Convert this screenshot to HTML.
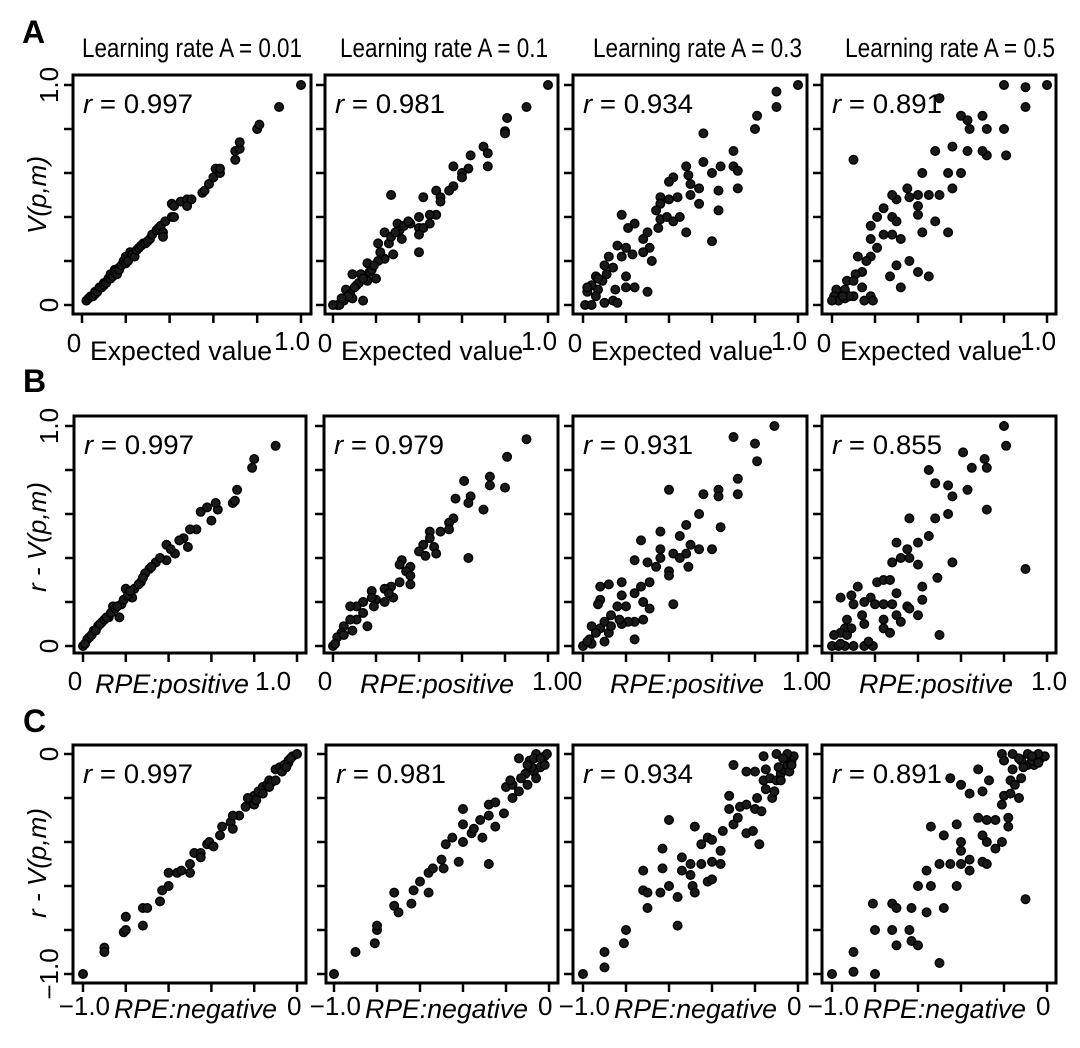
<!DOCTYPE html>
<html><head><meta charset="utf-8"><title>Learning rate scatter panels</title>
<style>
html,body{margin:0;padding:0;background:#fff;}
svg{display:block;font-family:"Liberation Sans",Arial,sans-serif;}
</style></head>
<body>
<svg id="fig" xmlns="http://www.w3.org/2000/svg" width="1080" height="1048" viewBox="0 0 1080 1048">
<rect x="0" y="0" width="1080" height="1048" fill="#fff"/>
<text x="22" y="43" font-size="32" font-weight="bold">A</text>
<text x="23" y="392" font-size="32" font-weight="bold">B</text>
<text x="23" y="732" font-size="32" font-weight="bold">C</text>
<text x="82" y="57" font-size="27" textLength="220" lengthAdjust="spacingAndGlyphs">Learning rate A = 0.01</text>
<text x="340" y="57" font-size="27" textLength="208" lengthAdjust="spacingAndGlyphs">Learning rate A = 0.1</text>
<text x="593" y="57" font-size="27" textLength="209" lengthAdjust="spacingAndGlyphs">Learning rate A = 0.3</text>
<text x="845" y="57" font-size="27" textLength="210" lengthAdjust="spacingAndGlyphs">Learning rate A = 0.5</text>
<text transform="translate(46,195) rotate(-90)" text-anchor="middle" font-size="26" font-style="italic">V(p,m)</text>
<text transform="translate(46,537) rotate(-90)" text-anchor="middle" font-size="26" font-style="italic">r - V(p,m)</text>
<text transform="translate(46,863) rotate(-90)" text-anchor="middle" font-size="26" font-style="italic">r - V(p,m)</text>
<g id="panels"></g>
</svg>
<script>
// ---- data: [x, y] pairs ----
const a1 = [[0.02,0.02],[0.03,0.03],[0.04,0.04],[0.05,0.04],[0.06,0.06],[0.06,0.05],[0.07,0.06],[0.08,0.08],[0.09,0.08],[0.1,0.1],[0.1,0.09],[0.11,0.1],[0.12,0.12],[0.13,0.12],[0.13,0.14],[0.14,0.13],[0.15,0.16],[0.15,0.15],[0.16,0.14],[0.17,0.17],[0.17,0.16],[0.18,0.18],[0.19,0.2],[0.2,0.19],[0.2,0.22],[0.21,0.2],[0.22,0.24],[0.23,0.23],[0.24,0.22],[0.25,0.25],[0.26,0.26],[0.27,0.27],[0.28,0.28],[0.29,0.28],[0.3,0.29],[0.31,0.3],[0.32,0.32],[0.34,0.34],[0.35,0.35],[0.36,0.36],[0.37,0.33],[0.37,0.31],[0.38,0.38],[0.41,0.4],[0.42,0.4],[0.41,0.46],[0.42,0.45],[0.45,0.47],[0.48,0.48],[0.48,0.45],[0.5,0.48],[0.55,0.51],[0.56,0.52],[0.58,0.55],[0.6,0.58],[0.61,0.62],[0.63,0.6],[0.63,0.62],[0.7,0.66],[0.7,0.7],[0.72,0.71],[0.72,0.74],[0.8,0.8],[0.81,0.82],[0.9,0.9],[1.0,1.0]];
const a2 = [[1.0,1.0],[0.9,0.9],[0.81,0.85],[0.8,0.79],[0.8,0.78],[0.7,0.72],[0.72,0.69],[0.72,0.63],[0.64,0.68],[0.56,0.63],[0.63,0.62],[0.6,0.6],[0.6,0.58],[0.56,0.54],[0.54,0.52],[0.48,0.52],[0.5,0.49],[0.5,0.47],[0.42,0.49],[0.27,0.5],[0.48,0.41],[0.45,0.41],[0.45,0.37],[0.4,0.4],[0.4,0.35],[0.42,0.35],[0.4,0.32],[0.4,0.24],[0.3,0.37],[0.36,0.37],[0.31,0.34],[0.32,0.3],[0.24,0.33],[0.21,0.28],[0.26,0.28],[0.28,0.23],[0.24,0.21],[0.21,0.2],[0.16,0.19],[0.17,0.15],[0.2,0.12],[0.13,0.14],[0.09,0.14],[0.16,0.11],[0.11,0.09],[0.06,0.07],[0.08,0.05],[0.14,0.02],[0.09,0.03],[0.05,0.02],[0.02,0.0],[0.03,0.0],[0.0,0.0],[0.07,0.04],[0.12,0.1],[0.18,0.16],[0.22,0.24],[0.33,0.36],[0.35,0.38],[0.04,0.03],[0.1,0.08],[0.14,0.12],[0.19,0.18],[0.27,0.31],[0.29,0.33]];
const a3 = [[1.0,1.0],[0.9,0.97],[0.9,0.9],[0.81,0.86],[0.8,0.8],[0.56,0.78],[0.7,0.7],[0.7,0.63],[0.72,0.61],[0.72,0.53],[0.64,0.63],[0.6,0.6],[0.56,0.65],[0.48,0.63],[0.49,0.59],[0.5,0.55],[0.5,0.5],[0.54,0.53],[0.54,0.46],[0.63,0.52],[0.63,0.43],[0.6,0.29],[0.48,0.33],[0.42,0.58],[0.4,0.56],[0.36,0.49],[0.4,0.48],[0.44,0.49],[0.36,0.46],[0.34,0.43],[0.36,0.39],[0.39,0.4],[0.42,0.38],[0.45,0.4],[0.35,0.35],[0.18,0.41],[0.21,0.35],[0.24,0.37],[0.3,0.33],[0.28,0.3],[0.31,0.26],[0.32,0.2],[0.3,0.06],[0.28,0.24],[0.23,0.23],[0.2,0.26],[0.16,0.27],[0.18,0.22],[0.12,0.22],[0.1,0.18],[0.14,0.17],[0.2,0.13],[0.2,0.08],[0.24,0.08],[0.15,0.07],[0.14,0.02],[0.16,0.01],[0.09,0.11],[0.06,0.13],[0.04,0.09],[0.07,0.07],[0.02,0.06],[0.06,0.04],[0.1,0.01],[0.01,0.0],[0.04,0.0],[0.11,0.14],[0.07,0.12],[0.02,0.08]];
const a4 = [[1.0,1.0],[0.9,0.99],[0.8,1.0],[0.9,0.9],[0.5,0.94],[0.8,0.8],[0.81,0.68],[0.72,0.8],[0.7,0.86],[0.64,0.8],[0.6,0.86],[0.63,0.84],[0.72,0.68],[0.7,0.7],[0.63,0.7],[0.56,0.72],[0.48,0.7],[0.6,0.6],[0.54,0.6],[0.42,0.6],[0.56,0.53],[0.5,0.5],[0.45,0.5],[0.4,0.5],[0.35,0.53],[0.36,0.49],[0.3,0.48],[0.28,0.5],[0.4,0.45],[0.4,0.41],[0.24,0.44],[0.21,0.4],[0.28,0.4],[0.3,0.38],[0.48,0.38],[0.54,0.33],[0.42,0.33],[0.18,0.36],[0.18,0.3],[0.24,0.32],[0.28,0.32],[0.32,0.3],[0.1,0.66],[0.21,0.26],[0.18,0.22],[0.12,0.22],[0.16,0.2],[0.36,0.2],[0.3,0.18],[0.27,0.13],[0.4,0.15],[0.45,0.13],[0.32,0.08],[0.14,0.15],[0.11,0.14],[0.07,0.11],[0.1,0.11],[0.14,0.08],[0.18,0.04],[0.19,0.02],[0.15,0.02],[0.1,0.04],[0.06,0.07],[0.02,0.07],[0.01,0.04],[0.03,0.02],[0.06,0.03],[0.08,0.04],[0.0,0.02],[0.05,0.04]];
const b1 = [[0.9,0.91],[0.8,0.85],[0.79,0.81],[0.72,0.71],[0.7,0.65],[0.63,0.62],[0.55,0.61],[0.6,0.57],[0.53,0.53],[0.47,0.49],[0.49,0.45],[0.43,0.42],[0.39,0.46],[0.39,0.39],[0.34,0.38],[0.31,0.35],[0.29,0.33],[0.27,0.29],[0.24,0.26],[0.2,0.26],[0.23,0.22],[0.18,0.19],[0.14,0.18],[0.17,0.13],[0.12,0.13],[0.09,0.11],[0.07,0.09],[0.05,0.07],[0.03,0.04],[0.02,0.03],[0.0,0.0],[0.01,0.01],[0.04,0.05],[0.06,0.07],[0.08,0.1],[0.1,0.12],[0.11,0.13],[0.13,0.15],[0.15,0.17],[0.16,0.18],[0.19,0.21],[0.21,0.23],[0.22,0.25],[0.26,0.28],[0.28,0.31],[0.32,0.36],[0.36,0.4],[0.41,0.44],[0.45,0.48],[0.5,0.53],[0.58,0.63],[0.62,0.65],[0.71,0.66]];
const b2 = [[0.9,0.94],[0.81,0.86],[0.8,0.72],[0.73,0.77],[0.73,0.73],[0.61,0.75],[0.64,0.68],[0.63,0.65],[0.57,0.67],[0.7,0.62],[0.56,0.58],[0.54,0.56],[0.54,0.53],[0.5,0.52],[0.45,0.52],[0.45,0.49],[0.42,0.46],[0.4,0.43],[0.43,0.41],[0.47,0.45],[0.48,0.42],[0.63,0.4],[0.32,0.39],[0.36,0.36],[0.31,0.37],[0.34,0.34],[0.36,0.32],[0.36,0.28],[0.31,0.29],[0.27,0.27],[0.24,0.26],[0.28,0.22],[0.24,0.2],[0.2,0.21],[0.18,0.25],[0.18,0.22],[0.14,0.2],[0.11,0.18],[0.08,0.18],[0.14,0.15],[0.16,0.09],[0.11,0.12],[0.08,0.12],[0.05,0.09],[0.09,0.07],[0.04,0.06],[0.02,0.04],[0.0,0.0],[0.01,0.01],[0.05,0.05],[0.19,0.18],[0.26,0.24]];
const b3 = [[0.89,1.0],[0.7,0.95],[0.8,0.92],[0.81,0.84],[0.72,0.76],[0.72,0.69],[0.63,0.71],[0.63,0.68],[0.56,0.69],[0.4,0.71],[0.54,0.6],[0.64,0.54],[0.48,0.55],[0.45,0.5],[0.36,0.52],[0.27,0.48],[0.5,0.46],[0.54,0.44],[0.6,0.44],[0.36,0.44],[0.36,0.4],[0.42,0.42],[0.45,0.4],[0.48,0.42],[0.49,0.36],[0.34,0.36],[0.4,0.34],[0.4,0.32],[0.3,0.38],[0.24,0.39],[0.31,0.29],[0.27,0.27],[0.24,0.24],[0.18,0.29],[0.12,0.28],[0.08,0.27],[0.08,0.21],[0.07,0.19],[0.18,0.23],[0.28,0.2],[0.31,0.17],[0.42,0.19],[0.2,0.18],[0.16,0.18],[0.13,0.14],[0.24,0.11],[0.28,0.12],[0.21,0.11],[0.18,0.1],[0.1,0.11],[0.04,0.09],[0.08,0.08],[0.12,0.06],[0.1,0.02],[0.24,0.03],[0.06,0.06],[0.03,0.03],[0.0,0.0],[0.04,0.01],[0.02,0.02],[0.13,0.09],[0.17,0.12]];
const b4 = [[0.8,1.0],[0.81,0.91],[0.61,0.88],[0.71,0.85],[0.65,0.81],[0.72,0.81],[0.45,0.8],[0.48,0.74],[0.54,0.73],[0.56,0.68],[0.63,0.71],[0.72,0.62],[0.54,0.6],[0.48,0.58],[0.36,0.58],[0.45,0.5],[0.4,0.47],[0.3,0.47],[0.35,0.44],[0.32,0.4],[0.36,0.4],[0.28,0.38],[0.4,0.37],[0.56,0.38],[0.9,0.35],[0.49,0.31],[0.42,0.27],[0.42,0.21],[0.4,0.14],[0.5,0.05],[0.3,0.24],[0.21,0.29],[0.24,0.3],[0.27,0.3],[0.12,0.27],[0.18,0.22],[0.04,0.22],[0.09,0.23],[0.15,0.2],[0.2,0.19],[0.24,0.19],[0.28,0.19],[0.1,0.19],[0.14,0.14],[0.15,0.1],[0.24,0.12],[0.3,0.14],[0.32,0.11],[0.35,0.18],[0.36,0.17],[0.24,0.08],[0.27,0.06],[0.07,0.12],[0.06,0.08],[0.09,0.08],[0.04,0.06],[0.01,0.05],[0.07,0.05],[0.0,0.0],[0.03,0.0],[0.06,0.0],[0.1,0.0],[0.15,0.0],[0.19,0.0],[0.17,0.02],[0.04,0.01]];
const c1 = [[-1.0,-1.0],[-0.9,-0.88],[-0.9,-0.9],[-0.8,-0.74],[-0.81,-0.81],[-0.8,-0.8],[-0.72,-0.7],[-0.7,-0.7],[-0.72,-0.78],[-0.64,-0.67],[-0.63,-0.62],[-0.6,-0.6],[-0.6,-0.54],[-0.56,-0.54],[-0.54,-0.53],[-0.5,-0.54],[-0.5,-0.5],[-0.48,-0.45],[-0.45,-0.45],[-0.45,-0.47],[-0.42,-0.41],[-0.41,-0.4],[-0.39,-0.42],[-0.36,-0.37],[-0.35,-0.33],[-0.31,-0.31],[-0.3,-0.34],[-0.27,-0.28],[-0.24,-0.24],[-0.22,-0.21],[-0.2,-0.19],[-0.18,-0.17],[-0.16,-0.15],[-0.14,-0.14],[-0.13,-0.12],[-0.1,-0.07],[-0.08,-0.06],[-0.06,-0.05],[-0.04,-0.03],[-0.02,-0.01],[0.0,0.0],[-0.2,-0.23],[-0.16,-0.18],[-0.12,-0.13],[-0.07,-0.08],[-0.04,-0.04],[-0.19,-0.21],[-0.23,-0.2],[-0.3,-0.28],[-0.1,-0.12],[-0.03,-0.02],[-0.13,-0.15],[-0.05,-0.06]];
const c2 = [[-1.0,-1.0],[-0.9,-0.9],[-0.81,-0.86],[-0.8,-0.8],[-0.8,-0.78],[-0.72,-0.63],[-0.72,-0.69],[-0.7,-0.72],[-0.64,-0.68],[-0.63,-0.62],[-0.6,-0.58],[-0.56,-0.63],[-0.56,-0.54],[-0.54,-0.52],[-0.5,-0.48],[-0.49,-0.52],[-0.42,-0.49],[-0.48,-0.41],[-0.45,-0.38],[-0.4,-0.25],[-0.4,-0.32],[-0.4,-0.4],[-0.36,-0.36],[-0.35,-0.34],[-0.32,-0.3],[-0.31,-0.38],[-0.28,-0.28],[-0.28,-0.5],[-0.25,-0.33],[-0.28,-0.23],[-0.25,-0.22],[-0.21,-0.27],[-0.2,-0.15],[-0.17,-0.14],[-0.17,-0.2],[-0.14,-0.17],[-0.1,-0.14],[-0.11,-0.09],[-0.14,-0.02],[-0.09,-0.03],[-0.06,0.0],[-0.02,-0.01],[-0.04,-0.06],[-0.07,-0.08],[-0.02,-0.05],[-0.06,-0.11],[-0.01,0.0],[-0.08,-0.06],[-0.1,-0.05],[-0.13,-0.11],[-0.18,-0.12],[-0.07,-0.02],[-0.04,-0.02]];
const c3 = [[-1.0,-1.0],[-0.9,-0.97],[-0.9,-0.9],[-0.81,-0.86],[-0.8,-0.8],[-0.72,-0.53],[-0.72,-0.62],[-0.7,-0.63],[-0.7,-0.7],[-0.64,-0.63],[-0.63,-0.43],[-0.63,-0.52],[-0.6,-0.6],[-0.6,-0.3],[-0.56,-0.65],[-0.56,-0.78],[-0.54,-0.47],[-0.54,-0.53],[-0.5,-0.5],[-0.5,-0.55],[-0.49,-0.6],[-0.48,-0.63],[-0.48,-0.33],[-0.45,-0.41],[-0.45,-0.5],[-0.42,-0.38],[-0.42,-0.58],[-0.4,-0.57],[-0.4,-0.39],[-0.4,-0.49],[-0.36,-0.44],[-0.36,-0.5],[-0.35,-0.35],[-0.32,-0.19],[-0.32,-0.25],[-0.3,-0.32],[-0.3,-0.05],[-0.28,-0.29],[-0.27,-0.24],[-0.24,-0.23],[-0.24,-0.36],[-0.21,-0.35],[-0.2,-0.25],[-0.19,-0.2],[-0.18,-0.41],[-0.17,-0.26],[-0.24,-0.08],[-0.2,-0.08],[-0.15,-0.07],[-0.15,-0.16],[-0.16,-0.12],[-0.12,-0.2],[-0.11,-0.17],[-0.13,-0.11],[-0.1,-0.12],[-0.08,-0.09],[-0.07,-0.07],[-0.05,-0.05],[-0.03,-0.03],[-0.02,-0.01],[-0.06,-0.02],[-0.1,0.0],[-0.16,-0.01],[-0.08,-0.12],[-0.04,-0.08],[-0.03,-0.05],[-0.09,-0.06],[-0.05,0.0],[-0.07,-0.02]];
const c4 = [[-1.0,-1.0],[-0.9,-0.99],[-0.8,-1.0],[-0.9,-0.9],[-0.8,-0.8],[-0.81,-0.68],[-0.72,-0.8],[-0.7,-0.87],[-0.72,-0.68],[-0.7,-0.7],[-0.64,-0.8],[-0.63,-0.85],[-0.6,-0.87],[-0.63,-0.7],[-0.56,-0.72],[-0.5,-0.95],[-0.48,-0.7],[-0.6,-0.6],[-0.54,-0.6],[-0.42,-0.6],[-0.56,-0.53],[-0.5,-0.5],[-0.45,-0.5],[-0.4,-0.5],[-0.36,-0.53],[-0.36,-0.48],[-0.4,-0.44],[-0.4,-0.4],[-0.48,-0.37],[-0.54,-0.33],[-0.42,-0.32],[-0.3,-0.49],[-0.28,-0.5],[-0.24,-0.43],[-0.21,-0.4],[-0.28,-0.4],[-0.3,-0.37],[-0.32,-0.29],[-0.28,-0.3],[-0.24,-0.3],[-0.18,-0.29],[-0.18,-0.33],[-0.1,-0.66],[-0.21,-0.23],[-0.2,-0.19],[-0.17,-0.18],[-0.13,-0.2],[-0.36,-0.18],[-0.3,-0.17],[-0.4,-0.14],[-0.45,-0.11],[-0.32,-0.07],[-0.27,-0.12],[-0.17,-0.12],[-0.15,-0.14],[-0.12,-0.11],[-0.16,-0.07],[-0.09,-0.05],[-0.06,-0.05],[-0.03,-0.02],[-0.01,-0.01],[-0.04,0.0],[-0.09,0.0],[-0.16,0.0],[-0.21,0.0],[-0.2,-0.03],[-0.12,-0.03],[-0.07,-0.03],[-0.13,-0.02],[-0.11,-0.06],[-0.07,-0.01],[-0.04,-0.04]];

const rValues = ["0.997","0.981","0.934","0.891","0.997","0.979","0.931","0.855","0.997","0.981","0.934","0.891"];
const posTicks = [0,0.2,0.4,0.6,0.8,1.0];
const negTicks = [-1.0,-0.8,-0.6,-0.4,-0.2,0];

// ---- layout (pixel geometry, not data) ----
const rows = [
  {key:'a', top:75, bot:314, vy0:305, vy1:85, dom:[0,1], xl:'Expected value', italic:false, lblY:358},
  {key:'b', top:416, bot:653, vy0:646, vy1:426, dom:[0,1], xl:'RPE:positive', italic:true, lblY:690},
  {key:'c', top:745, bot:983, vy0:974, vy1:754, dom:[-1,0], xl:'RPE:negative', italic:true, lblY:1015}
];
const cols = [
  [{l:73,r:311,x0:82,x1:301},{l:74,r:306,x0:83,x1:297},{l:73,r:306,x0:83,x1:297}],
  [{l:325,r:558,x0:333,x1:548},{l:324,r:558,x0:333,x1:548},{l:326,r:558,x0:334,x1:549}],
  [{l:573,r:807,x0:583,x1:798},{l:573,r:807,x0:583,x1:798},{l:573,r:807,x0:583,x1:798}],
  [{l:822,r:1056,x0:832,x1:1047},{l:822,r:1056,x0:832,x1:1047},{l:822,r:1056,x0:832,x1:1047}]
];
const datasets = [[a1,a2,a3,a4],[b1,b2,b3,b4],[c1,c2,c3,c4]];
const NS = 'http://www.w3.org/2000/svg';
const root = document.getElementById('panels');

function mk(tag, attrs, parent){
  const e = document.createElementNS(NS, tag);
  for (const k in attrs) e.setAttribute(k, attrs[k]);
  parent.appendChild(e);
  return e;
}

rows.forEach((row, ri) => {
  cols.forEach((colSet, ci) => {
    const c = colSet[ri];
    const d0 = row.dom[0], d1 = row.dom[1];
    const xScale = v => c.x0 + (v - d0) / (d1 - d0) * (c.x1 - c.x0);
    const yScale = ri === 2
      ? (v => row.vy1 + (0 - v) * (row.vy0 - row.vy1))
      : (v => row.vy0 - v * (row.vy0 - row.vy1));
    const g = mk('g', {}, root);
    
    

    const ticks = ri === 2 ? negTicks : posTicks;
    ticks.forEach(t => {
      const tx = mk('line', {x1:xScale(t), x2:xScale(t), y1:row.bot, y2:row.bot + 9, stroke:'#000', 'stroke-width':2.5}, g);
      
      
      const ty = mk('line', {x1:c.l - 9, x2:c.l, y1:yScale(t), y2:yScale(t), stroke:'#000', 'stroke-width':2.5}, g);
      
      
    });

    datasets[ri][ci].forEach(p => {
      const pt = mk('circle', {cx:xScale(p[0]).toFixed(1), cy:yScale(p[1]).toFixed(1), r:4.3, fill:'#1a1a1a', stroke:'#000', 'stroke-width':1.4}, g);
      
      
    });

    const fr = mk('rect', {x:c.l, y:row.top, width:c.r - c.l, height:row.bot - row.top, fill:'none', stroke:'#000', 'stroke-width':3}, g);
    
    

    const rl = mk('text', {x:c.l + 10, y:row.top + 38, 'font-size':27, textLength:110, lengthAdjust:'spacingAndGlyphs'}, g);
    
    
    const ri1 = mk('tspan', {'font-style':'italic'}, rl); ri1.textContent = 'r';
    const ri2 = mk('tspan', {}, rl); ri2.textContent = ' = ' + rValues[ri * 4 + ci];

    let lo, hi, loAnchor, hiX, titleX, titleW, loX;
    if (ri === 2) {
      lo = '\u22121.0'; hi = '0';
      loX = c.x0 + 27; loAnchor = 'end';
      titleX = c.x0 + 31; titleW = 163; hiX = c.x0 + 204;
    } else {
      lo = '0'; hi = '1.0';
      loX = c.x0 - 8; loAnchor = 'middle';
      if (ri === 0) { titleX = c.x0 + 8; titleW = 182; hiX = c.x1 - 27; }
      else { titleX = (ci === 0 ? c.x0 + 12 : c.x0 + 27); titleW = 154; hiX = (ci === 0 ? c.x1 - 42 : c.x0 + 199); }
    }
    const lt = mk('text', {x:loX, y:row.lblY - (ri === 0 ? 6 : 0), 'font-size':26, 'text-anchor':loAnchor}, g);
    
    
    lt.textContent = lo;
    const xt = mk('text', {x:titleX, y:row.lblY + (ri === 0 ? 2 : 3), 'font-size':27, textLength:titleW, lengthAdjust:'spacingAndGlyphs'}, g);
    if (row.italic) xt.setAttribute('font-style', 'italic');
    
    
    xt.textContent = row.xl;
    const ht = mk('text', {x:hiX, y:row.lblY - (ri === 0 ? 8 : 0), 'font-size':26}, g);
    
    
    ht.textContent = hi;

    if (ci === 0) {
      const yTop = ri === 2 ? '0' : '1.0';
      const yBot = ri === 2 ? '\u22121.0' : '0';
      const yt = mk('text', {transform:'translate(58,' + row.vy1 + ') rotate(-90)', 'font-size':26, 'text-anchor':'middle'}, g);
      
      
      yt.textContent = yTop;
      const yb = mk('text', {transform:'translate(58,' + row.vy0 + ') rotate(-90)', 'font-size':26, 'text-anchor':'middle'}, g);
      
      
      yb.textContent = yBot;
    }
  });
});
</script>
</body></html>
